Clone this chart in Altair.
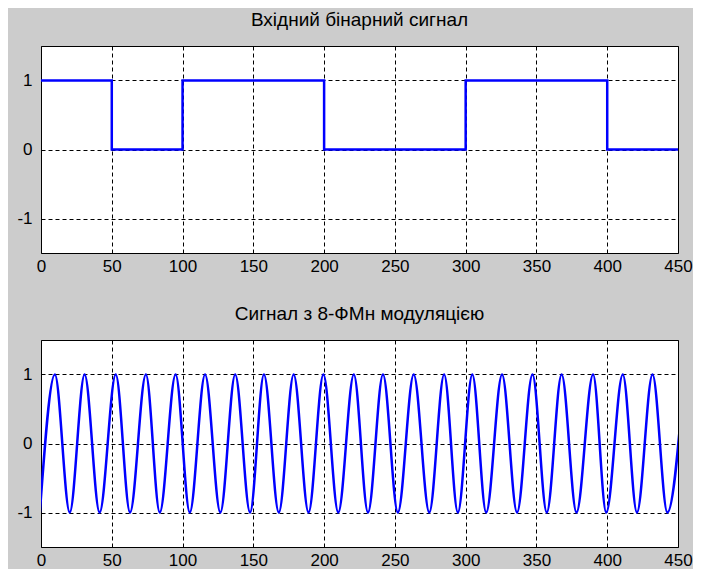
import altair as alt
import pandas as pd

# ---- data ----
bits = [1, 0, 1, 1, 0, 0, 1, 1, 0]          # input binary signal, one bit per 50 samples
bit_len = 50
x_end = 450

# extrema of the 8-PSK modulated signal (x positions)
peaks_x = [9.8, 30.8, 52.8, 74.1, 95.1, 115.9, 137.2, 157.5, 178.5, 199.5, 221.0,
           241.6, 263.3, 284.8, 304.7, 325.7, 347.2, 367.8, 390.0, 411.0, 432.0, 454.5]
troughs_x = [-0.8, 20.3, 41.4, 62.9, 83.9, 105.1, 126.7, 147.7, 168.0, 189.0, 210.0,
             231.0, 252.1, 274.3, 294.5, 314.5, 336.3, 357.3, 378.3, 399.3, 421.0, 442.5]

x_ticks = [0, 50, 100, 150, 200, 250, 300, 350, 400, 450]
y_ticks = [-1, 0, 1]

title_top = "Вхідний бінарний сигнал"
title_bottom = "Сигнал з 8-ФМн модуляцією"

# ---- tables ----
bin_df = pd.DataFrame({
    "x": [i * bit_len for i in range(len(bits))] + [x_end],
    "y": bits + [bits[-1]],
})
mod_df = pd.DataFrame(
    [{"x": p, "y": 1} for p in peaks_x] + [{"x": t, "y": -1} for t in troughs_x]
).sort_values("x")

FONT = "Liberation Sans"
BLUE = "#0000ff"
W = 637

x_scale = alt.Scale(domain=[0, x_end], nice=False, zero=False)
y_scale = alt.Scale(domain=[-1.5, 1.5], nice=False)

LABEL_EXPR = "replace(datum.label, '\u2212', '-')"


def ax_x():
    return alt.Axis(values=x_ticks, title=None, format="d", labelExpr=LABEL_EXPR,
                    labelPadding=5, labelFlush=False)


def ax_y():
    return alt.Axis(values=y_ticks, title=None, format="d", labelExpr=LABEL_EXPR,
                    labelPadding=9, labelFlush=False)


top = alt.Chart(bin_df, title=alt.TitleParams(title_top)).mark_line(
    interpolate="step-after", color=BLUE, strokeWidth=2.5, clip=True
).encode(
    x=alt.X("x:Q", scale=x_scale, axis=ax_x()),
    y=alt.Y("y:Q", scale=y_scale, axis=ax_y()),
).properties(width=W, height=207)

bottom = alt.Chart(mod_df, title=alt.TitleParams(title_bottom)).mark_line(
    interpolate="monotone", color=BLUE, strokeWidth=2.5, clip=True
).encode(
    x=alt.X("x:Q", scale=x_scale, axis=ax_x()),
    y=alt.Y("y:Q", scale=y_scale, axis=ax_y()),
).properties(width=W, height=207)

chart = alt.vconcat(top, bottom, spacing=29).properties(
    background="#cccccc",
    padding={"left": 8, "top": 2, "right": 0, "bottom": 0},
).configure_view(
    fill="white", stroke="black", strokeWidth=1
).configure_axis(
    labelFont=FONT, labelFontSize=17, labelColor="black",
    ticks=False, domain=False,
    grid=True, gridColor="black", gridDash=[4, 3], gridWidth=1, gridOpacity=1,
).configure_title(
    font=FONT, fontSize=19, fontWeight="normal", color="black", anchor="middle", offset=16,
)

chart.save("out.html", embed_options={"renderer": "svg", "actions": False})
